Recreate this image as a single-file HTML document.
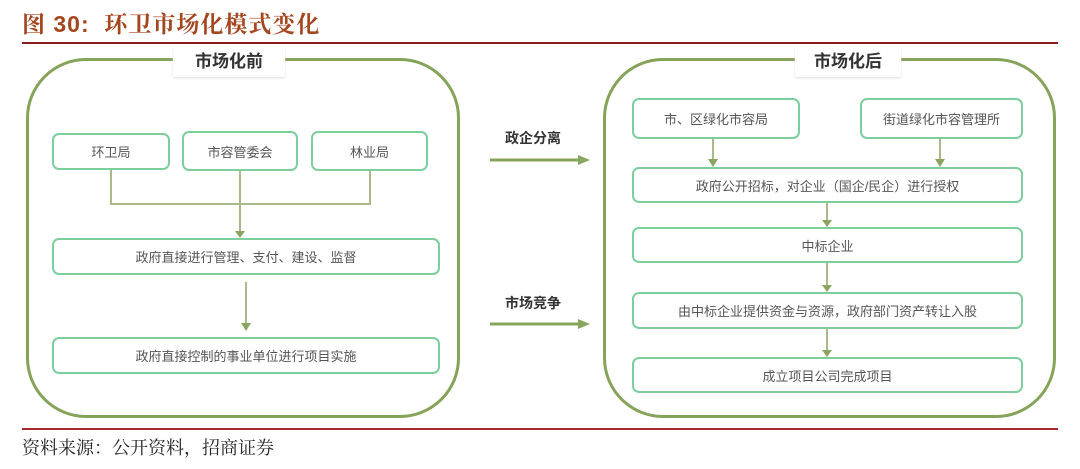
<!DOCTYPE html>
<html><head><meta charset="utf-8"><style>
body{margin:0;width:1080px;height:469px;background:#fff;position:relative;overflow:hidden;font-family:"Liberation Sans","Noto Sans CJK SC",sans-serif}
.a{position:absolute}
.big{position:absolute;border:3px solid #86a35a;border-radius:60px;box-sizing:border-box}
.lab{position:absolute;background:#fff;font-weight:bold;font-size:17px;color:#333;text-align:center;line-height:30px;box-shadow:0 1px 2px #ddd}
.b{position:absolute;border:2px solid #7ccf9c;border-radius:7px;box-sizing:border-box;display:flex;align-items:center;justify-content:center;font-size:13px;color:#555}
.mid{position:absolute;font-weight:bold;font-size:14px;color:#333}
</style></head><body>
<div class="a" style="left:22px;top:6px;font-size:23px;font-weight:bold;color:#a4461e;letter-spacing:1px;font-family:'Liberation Sans','Noto Serif CJK SC',serif">图 30:&nbsp;&nbsp;环卫市场化模式变化</div>
<div class="a" style="left:22px;top:42px;width:1036px;height:2px;background:#8b1a1a"></div>

<div class="big" style="left:26px;top:58px;width:434px;height:360px"></div>
<div class="lab" style="left:173px;top:47px;width:112px">市场化前</div>
<div class="big" style="left:603px;top:58px;width:453px;height:360px"></div>
<div class="lab" style="left:795px;top:47px;width:106px">市场化后</div>

<svg class="a" style="left:0;top:0" width="1080" height="469">
<g stroke="#a8b98a" stroke-width="2" fill="none">
<polyline points="111,170 111,204 370,204 370,170"/>
<line x1="240" y1="171" x2="240" y2="232"/>
<line x1="246" y1="282" x2="246" y2="324"/>
<line x1="713" y1="139" x2="713" y2="160"/>
<line x1="940" y1="139" x2="940" y2="160"/>
<line x1="827" y1="203" x2="827" y2="221"/>
<line x1="827" y1="263" x2="827" y2="286"/>
<line x1="827" y1="329" x2="827" y2="351"/>
</g>
<g fill="#8aa560">
<polygon points="235,231 245,231 240,238"/>
<polygon points="241,323 251,323 246,331"/>
<polygon points="708,159 718,159 713,167"/>
<polygon points="935,159 945,159 940,167"/>
<polygon points="822,220 832,220 827,227"/>
<polygon points="822,285 832,285 827,292"/>
<polygon points="822,350 832,350 827,357"/>
<polygon points="578,155 590,160 578,165"/>
<polygon points="578,319 590,324 578,329"/>
</g>
<line x1="490" y1="160" x2="580" y2="160" stroke="#86a35a" stroke-width="3"/>
<line x1="490" y1="324" x2="580" y2="324" stroke="#86a35a" stroke-width="3"/>
</svg>

<div class="b" style="left:52px;top:133px;width:118px;height:37px">环卫局</div>
<div class="b" style="left:182px;top:131px;width:116px;height:40px">市容管委会</div>
<div class="b" style="left:311px;top:131px;width:117px;height:40px">林业局</div>
<div class="b" style="left:52px;top:238px;width:388px;height:37px">政府直接进行管理、支付、建设、监督</div>
<div class="b" style="left:52px;top:337px;width:388px;height:37px">政府直接控制的事业单位进行项目实施</div>

<div class="mid" style="left:505px;top:128px">政企分离</div>
<div class="mid" style="left:505px;top:293px">市场竞争</div>

<div class="b" style="left:632px;top:98px;width:168px;height:41px">市、区绿化市容局</div>
<div class="b" style="left:860px;top:98px;width:163px;height:41px">街道绿化市容管理所</div>
<div class="b" style="left:632px;top:167px;width:391px;height:36px">政府公开招标，对企业（国企/民企）进行授权</div>
<div class="b" style="left:632px;top:227px;width:391px;height:36px">中标企业</div>
<div class="b" style="left:632px;top:292px;width:391px;height:37px">由中标企业提供资金与资源，政府部门资产转让入股</div>
<div class="b" style="left:632px;top:357px;width:391px;height:36px">成立项目公司完成项目</div>

<div class="a" style="left:22px;top:428px;width:1036px;height:2px;background:#a82a2a"></div>
<div class="a" style="left:22px;top:434px;font-size:18px;color:#222;font-family:'Liberation Serif','Noto Serif CJK SC',serif">资料来源：公开资料，招商证券</div>
</body></html>
